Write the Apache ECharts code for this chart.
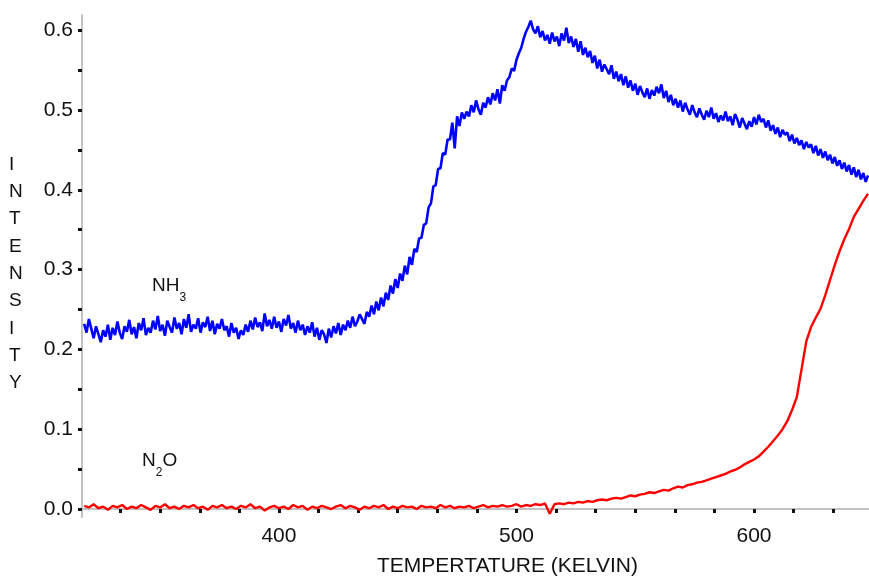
<!DOCTYPE html>
<html>
<head>
<meta charset="utf-8">
<script src="https://cdn.jsdelivr.net/npm/echarts@6/dist/echarts.min.js"></script>
<style>
  html, body { margin: 0; padding: 0; background: #fff; }
  #chart { width: 869px; height: 577px; }
</style>
</head>
<body>
<div id="chart"></div>
<script>
// ---- Data ----
// NH3 signal sampled every 1 K starting at 318 K
const nh3StartK = 318;
const nh3StepK = 1;
const nh3Values = [
  0.232,0.221,0.238,0.226,0.214,0.229,0.219,0.209,0.224,0.216,
  0.231,0.212,0.227,0.218,0.235,0.221,0.213,0.229,0.222,0.237,
  0.219,0.228,0.214,0.233,0.224,0.239,0.218,0.227,0.221,0.236,
  0.225,0.242,0.223,0.231,0.217,0.236,0.228,0.221,0.240,0.226,
  0.233,0.219,0.238,0.227,0.244,0.222,0.231,0.226,0.239,0.221,
  0.234,0.228,0.241,0.223,0.236,0.219,0.232,0.226,0.238,0.224,
  0.229,0.216,0.233,0.221,0.227,0.213,0.224,0.218,0.231,0.222,
  0.236,0.225,0.240,0.228,0.234,0.223,0.245,0.229,0.237,0.226,
  0.241,0.227,0.235,0.222,0.238,0.230,0.243,0.226,0.233,0.221,
  0.236,0.224,0.231,0.218,0.229,0.221,0.234,0.216,0.227,0.212,
  0.224,0.219,0.208,0.226,0.215,0.229,0.220,0.233,0.218,0.231,
  0.224,0.236,0.227,0.241,0.229,0.235,0.244,0.238,0.232,0.247,
  0.241,0.255,0.244,0.260,0.249,0.265,0.254,0.271,0.262,0.280,
  0.270,0.288,0.277,0.295,0.286,0.305,0.294,0.316,0.306,0.326,
  0.322,0.339,0.340,0.356,0.358,0.378,0.383,0.404,0.406,0.426,
  0.427,0.446,0.444,0.463,0.463,0.484,0.452,0.492,0.480,0.497,
  0.489,0.498,0.492,0.506,0.497,0.512,0.501,0.494,0.509,0.503,
  0.516,0.507,0.521,0.512,0.526,0.508,0.531,0.524,0.537,0.541,
  0.552,0.549,0.563,0.571,0.578,0.589,0.598,0.604,0.612,0.601,
  0.596,0.605,0.591,0.599,0.587,0.594,0.583,0.597,0.586,0.592,
  0.580,0.596,0.587,0.603,0.584,0.592,0.579,0.589,0.573,0.586,
  0.569,0.578,0.566,0.574,0.559,0.568,0.552,0.563,0.548,0.557,
  0.551,0.545,0.556,0.539,0.548,0.536,0.545,0.531,0.542,0.528,
  0.537,0.524,0.533,0.519,0.530,0.522,0.516,0.527,0.514,0.525,
  0.518,0.529,0.521,0.532,0.515,0.524,0.510,0.519,0.506,0.514,
  0.503,0.512,0.498,0.509,0.501,0.494,0.506,0.497,0.491,0.502,
  0.494,0.488,0.499,0.491,0.503,0.489,0.496,0.485,0.493,0.487,
  0.498,0.486,0.492,0.481,0.495,0.488,0.478,0.490,0.483,0.476,
  0.486,0.479,0.491,0.482,0.494,0.485,0.489,0.478,0.487,0.474,
  0.481,0.470,0.478,0.466,0.475,0.469,0.472,0.461,0.469,0.458,
  0.465,0.456,0.462,0.451,0.460,0.453,0.457,0.446,0.455,0.443,
  0.451,0.440,0.448,0.437,0.444,0.433,0.441,0.430,0.437,0.426,
  0.434,0.423,0.431,0.419,0.428,0.416,0.425,0.413,0.421,0.410,
  0.418
];

// N2O signal sampled every 2 K starting at 318 K
const n2oStartK = 318;
const n2oStepK = 2;
const n2oValues = [
  0.004,0.002,0.006,0.001,0.003,-0.001,0.004,0.002,0.005,0.000,
  0.003,0.001,0.005,0.002,-0.001,0.004,0.002,0.006,0.001,0.003,
  0.000,0.004,0.002,0.005,0.001,0.003,-0.001,0.004,0.002,0.005,
  0.001,0.003,0.000,0.004,0.002,0.006,0.001,0.003,-0.002,0.002,
  0.004,0.001,0.003,0.000,0.005,0.002,0.004,-0.001,0.003,0.001,
  0.004,0.002,0.000,0.003,0.005,0.001,0.004,0.002,-0.001,0.003,
  0.001,0.004,0.002,0.005,0.000,0.003,0.001,0.004,0.002,0.003,
  0.000,0.004,0.002,0.003,0.001,0.005,0.002,0.004,0.001,0.003,
  0.002,0.004,0.001,0.003,0.005,0.002,0.004,0.003,0.005,0.003,
  0.004,0.006,0.003,0.005,0.004,0.006,0.005,0.007,-0.006,0.006,
  0.007,0.006,0.008,0.007,0.009,0.008,0.010,0.009,0.011,0.012,
  0.011,0.013,0.014,0.013,0.015,0.017,0.016,0.018,0.019,0.021,
  0.020,0.022,0.024,0.023,0.026,0.028,0.027,0.030,0.031,0.033,
  0.034,0.036,0.038,0.040,0.042,0.044,0.047,0.049,0.052,0.056,
  0.059,0.062,0.066,0.072,0.078,0.085,0.092,0.100,0.110,0.124,
  0.140,0.175,0.210,0.228,0.240,0.251,0.268,0.287,0.306,0.323,
  0.338,0.351,0.366,0.376,0.386,0.395
];

// Axis ticks and labels
const xLabelValues = [400, 500, 600];
const xDotValues = [333.33, 350, 366.67, 383.33, 400, 416.67, 433.33, 450, 466.67, 483.33,
                    500, 516.67, 533.33, 550, 566.67, 583.33, 600, 616.67, 633.33];
const yLabelValues = [0.0, 0.1, 0.2, 0.3, 0.4, 0.5, 0.6];
const yDotValues = [0.0, 0.05, 0.1, 0.15, 0.2, 0.25, 0.3, 0.35, 0.4, 0.45, 0.5, 0.55, 0.6];
const xAxisTitle = 'TEMPERTATURE (KELVIN)';
const yAxisTitle = 'INTENSITY';

// ---- Build series pairs ----
const nh3Data = nh3Values.map((v, i) => [nh3StartK + i * nh3StepK, v]);
const n2oData = n2oValues.map((v, i) => [n2oStartK + i * n2oStepK, v]);

const FONT = '"Liberation Sans", Arial, Helvetica, sans-serif';
const chart = echarts.init(document.getElementById('chart'), null, { renderer: 'canvas' });

chart.setOption({
  animation: false,
  backgroundColor: '#ffffff',
  grid: { left: 82, right: 0, top: 15, bottom: 60, containLabel: false, outerBoundsMode: 'none' },
  xAxis: {
    type: 'value',
    min: 317.1,
    max: 648.4,
    name: xAxisTitle,
    nameLocation: 'middle',
    nameGap: 39,
    nameTextStyle: { fontFamily: FONT, fontSize: 21, color: '#111', padding: [0, 0, 0, 64] },
    axisLine: { show: true, lineStyle: { color: '#c2c2c2', width: 2 } },
    axisTick: { show: true, customValues: xDotValues, length: 4, lineStyle: { color: '#111', width: 3 } },
    axisLabel: { customValues: xLabelValues, fontFamily: FONT, fontSize: 21, color: '#111', margin: 9 },
    splitLine: { show: false }
  },
  yAxis: {
    type: 'value',
    min: -0.01,
    max: 0.619,
    axisLine: { show: true, lineStyle: { color: '#c2c2c2', width: 2 } },
    axisTick: { show: true, customValues: yDotValues, length: 4, lineStyle: { color: '#111', width: 3 } },
    axisLabel: {
      customValues: yLabelValues,
      fontFamily: FONT, fontSize: 21, color: '#111', margin: 9,
      formatter: v => v.toFixed(1)
    },
    splitLine: { show: false }
  },
  series: [
    {
      name: 'NH3', type: 'line', data: nh3Data, showSymbol: false, symbol: 'none',
      lineStyle: { color: '#0000ff', width: 2.6 }, z: 3
    },
    {
      name: 'N2O', type: 'line', data: n2oData, showSymbol: false, symbol: 'none',
      lineStyle: { color: '#ff0000', width: 2.4 }, z: 4
    }
  ],
  graphic: [
    {
      type: 'text', left: 9, top: 151,
      style: {
        text: yAxisTitle.split('').join('\n'),
        fontFamily: FONT, fontSize: 19, lineHeight: 27.3, fill: '#111', align: 'center'
      }
    },
    {
      type: 'text', left: 152, top: 276,
      style: {
        text: '{m|NH}{s|3}',
        fill: '#111',
        rich: {
          m: { fontFamily: FONT, fontSize: 19, lineHeight: 36, verticalAlign: 'middle', fill: '#111' },
          s: { fontFamily: FONT, fontSize: 12, lineHeight: 36, verticalAlign: 'bottom', fill: '#111' }
        }
      }
    },
    {
      type: 'text', left: 142, top: 451,
      style: {
        text: '{m|N}{s|2}{m|O}',
        fill: '#111',
        rich: {
          m: { fontFamily: FONT, fontSize: 19, lineHeight: 36, verticalAlign: 'middle', fill: '#111' },
          s: { fontFamily: FONT, fontSize: 12, lineHeight: 36, verticalAlign: 'bottom', fill: '#111' }
        }
      }
    }
  ]
});
</script>
</body>
</html>
